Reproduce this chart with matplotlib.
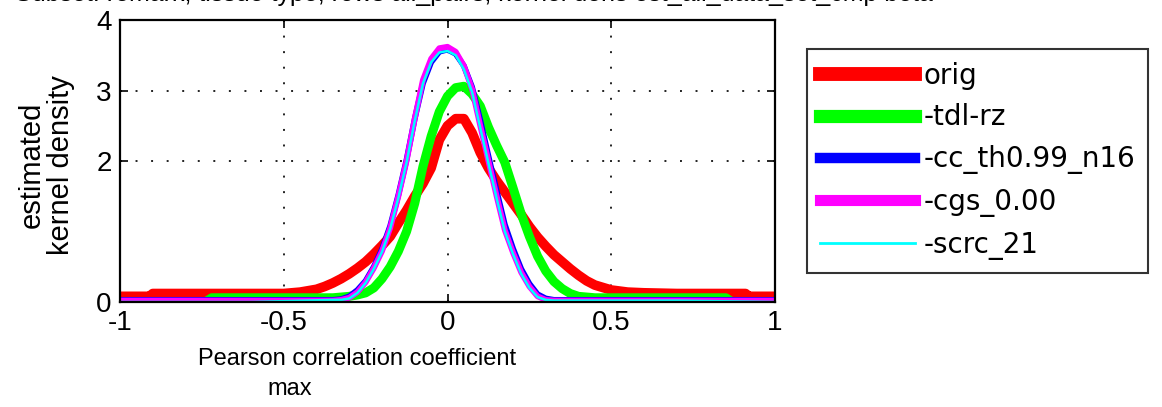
import matplotlib
matplotlib.use("Agg")
import matplotlib.pyplot as plt
from matplotlib.lines import Line2D
from matplotlib.font_manager import FontProperties

plt.rcParams['font.family'] = ['Liberation Sans', 'DejaVu Sans']

# ---------------- data ----------------
labels = ["orig", "-tdl-rz", "-cc_th0.99_n16", "-cgs_0.00", "-scrc_21"]
colors = ["#ff0000", "#00ff00", "#0000ff", "#ff00ff", "#00ffff"]

x_orig = [-1.0, -0.91, -0.9, -0.6, -0.5, -0.45, -0.4,
          -0.375, -0.35, -0.325, -0.3, -0.275, -0.25, -0.225, -0.2, -0.175, -0.15,
          -0.125, -0.1, -0.075, -0.05, -0.025, 0.0, 0.025, 0.05, 0.075, 0.1,
          0.125, 0.15, 0.175, 0.2, 0.225, 0.25, 0.275, 0.3, 0.325, 0.35,
          0.375, 0.4, 0.425, 0.45,
          0.5, 0.55, 0.6, 0.7, 0.8, 0.91, 0.92, 1.0]
y_orig = [0.08, 0.08, 0.12, 0.12, 0.12, 0.14, 0.18,
          0.22, 0.27, 0.33, 0.40, 0.48, 0.57, 0.68, 0.80, 0.93, 1.12,
          1.30, 1.50, 1.68, 1.90, 2.30, 2.50, 2.60, 2.60, 2.40, 2.12,
          1.90, 1.72, 1.56, 1.40, 1.24, 1.07, 0.92, 0.79, 0.67, 0.57,
          0.47, 0.38, 0.30, 0.24,
          0.17, 0.14, 0.13, 0.12, 0.12, 0.12, 0.08, 0.08]

x_tdl = [-1.0, -0.74, -0.72, -0.35,
         -0.325, -0.3, -0.275, -0.25, -0.225, -0.2, -0.175, -0.15, -0.125, -0.1,
         -0.075, -0.05, -0.025, 0.0, 0.025, 0.05, 0.075, 0.1, 0.125, 0.15,
         0.175, 0.2, 0.225, 0.25, 0.275, 0.3, 0.325, 0.35, 0.375, 0.4,
         0.425, 0.45,
         0.5, 0.85, 0.87, 1.0]
y_tdl = [0.0, 0.0, 0.06, 0.06,
         0.07, 0.08, 0.10, 0.13, 0.20, 0.33, 0.50, 0.72, 1.00, 1.40,
         1.92, 2.35, 2.70, 2.92, 3.04, 3.06, 2.95, 2.78, 2.48, 2.22,
         1.98, 1.62, 1.25, 0.93, 0.65, 0.44, 0.29, 0.19, 0.12, 0.08,
         0.07, 0.06,
         0.06, 0.06, 0.0, 0.0]

x_narrow = [-1.0, -0.6, -0.35,
            -0.325, -0.3, -0.275, -0.25, -0.225, -0.2, -0.175, -0.15, -0.125, -0.1,
            -0.075, -0.05, -0.025, 0.0, 0.025, 0.05, 0.075, 0.1, 0.125, 0.15,
            0.175, 0.2, 0.225, 0.25, 0.275, 0.3, 0.325, 0.35,
            0.7, 1.0]
y_cc = [0.03, 0.03, 0.03,
        0.04, 0.08, 0.17, 0.30, 0.50, 0.75, 1.08, 1.52, 2.02, 2.60,
        3.10, 3.40, 3.55, 3.58, 3.52, 3.35, 3.05, 2.58, 2.07, 1.58,
        1.10, 0.76, 0.47, 0.26, 0.11, 0.05, 0.03, 0.03,
        0.03, 0.03]
y_cgs = [0.02, 0.02, 0.02,
         0.03, 0.06, 0.14, 0.28, 0.48, 0.72, 1.05, 1.50, 2.00, 2.60,
         3.15, 3.45, 3.60, 3.62, 3.55, 3.35, 3.02, 2.50, 2.00, 1.50,
         1.02, 0.70, 0.42, 0.22, 0.08, 0.03, 0.02, 0.02,
         0.02, 0.02]
y_scrc = [0.0, 0.0, 0.03,
          0.03, 0.05, 0.13, 0.27, 0.47, 0.71, 1.04, 1.48, 1.98, 2.57,
          3.10, 3.40, 3.54, 3.56, 3.50, 3.30, 2.98, 2.47, 1.97, 1.47,
          1.00, 0.68, 0.40, 0.20, 0.07, 0.03, 0.02, 0.02,
          0.02, 0.0]

xticks = [-1, -0.5, 0, 0.5, 1]
xticklabels = ["-1", "-0.5", "0", "0.5", "1"]
yticks = [0, 2, 3, 4]
yticklabels = ["0", "2", "3", "4"]

# ---------------- figure ----------------
W, H = 1162, 407
fig = plt.figure(figsize=(W / 100, H / 100), dpi=100)
ax = fig.add_axes([120 / W, 1 - 302 / H, (775 - 120) / W, (302 - 20) / H])

series = [(x_orig, y_orig), (x_tdl, y_tdl), (x_narrow, y_cc),
          (x_narrow, y_cgs), (x_narrow, y_scrc)]
widths = [7.0, 6.5, 4.2, 4.2, 1.8]
for (xs, ys), c, lw in zip(series, colors, widths):
    ax.plot(xs, ys, color=c, lw=lw, solid_joinstyle='round', zorder=3)

ax.set_xlim(-1, 1)
ax.set_ylim(0, 4)
ax.set_xticks(xticks)
ax.set_xticklabels(xticklabels)
ax.set_yticks(yticks)
ax.set_yticklabels(yticklabels)
ax.tick_params(direction='in', length=6, width=1.2, top=True, right=True,
               labelsize=20, pad=6, colors='black')
for sp in ax.spines.values():
    sp.set_linewidth(1.6)
    sp.set_zorder(5)
ax.grid(True, color='#222222', linestyle=(0, (1, 7)), linewidth=1.4, zorder=1)

# labels
fig.text(357 / W, 1 - 348 / H, "Pearson correlation coefficient",
         ha='center', va='top', fontsize=17)
fig.text(290 / W, 1 - 378 / H, "max", ha='center', va='top', fontsize=17)
fig.text(46 / W, 1 - 165 / H, "estimated\nkernel density", rotation=90,
         ha='center', va='center', multialignment='center', fontsize=21,
         linespacing=1.05)

# title, cut off at the top edge as in the reference
fig.text(15 / W, 1 - 1 / H,
         "Subset: remark, tissue type, rows all_pairs, kernel dens est_all_data_set_cmp beta",
         ha='left', va='baseline', fontsize=18)

# legend
lw_leg = [10, 9.5, 7.5, 8, 2]
handles = [Line2D([0], [0], color=c, lw=w) for c, w in zip(colors, lw_leg)]
leg = fig.legend(handles, labels, loc='upper left',
                 bbox_to_anchor=(807 / W, 1 - 49 / H), bbox_transform=fig.transFigure,
                 borderaxespad=0, prop=FontProperties(family='DejaVu Sans', size=20),
                 handlelength=3.45, handletextpad=0.3, borderpad=0.45,
                 labelspacing=0.5, frameon=True, fancybox=False, edgecolor='black')
leg.get_frame().set_linewidth(1.5)

fig.savefig("out.png", dpi=100)
